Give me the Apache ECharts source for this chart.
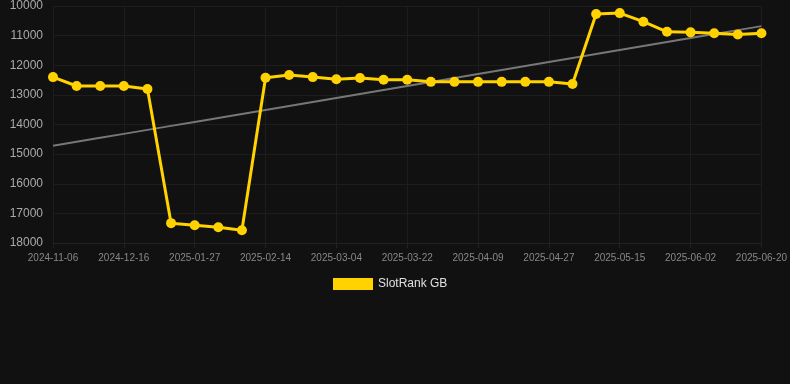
<!DOCTYPE html>
<html><head><meta charset="utf-8">
<script src="https://cdn.jsdelivr.net/npm/echarts@6/dist/echarts.min.js"></script>
<style>html,body{margin:0;padding:0;background:#111111;}#c{width:790px;height:384px;}</style>
</head><body><div id="c"></div>
<script>
const categories = ["2024-11-06","2024-11-19","2024-12-02","2024-12-16","2024-12-30","2025-01-13","2025-01-27","2025-02-02","2025-02-08","2025-02-14","2025-02-20","2025-02-26","2025-03-04","2025-03-10","2025-03-16","2025-03-22","2025-03-28","2025-04-03","2025-04-09","2025-04-15","2025-04-21","2025-04-27","2025-05-03","2025-05-09","2025-05-15","2025-05-21","2025-05-27","2025-06-02","2025-06-08","2025-06-14","2025-06-20"];
const rankValues = [12400,12700,12700,12700,12800,17330,17400,17470,17570,12420,12330,12400,12470,12430,12490,12490,12560,12560,12560,12560,12560,12560,12630,10270,10240,10530,10870,10890,10920,10960,10920];
const yTicks = [10000,11000,12000,13000,14000,15000,16000,17000,18000];

// least-squares trend line over the series
const n = rankValues.length;
let sx=0, sy=0, sxx=0, sxy=0;
rankValues.forEach((v,i)=>{sx+=i;sy+=v;sxx+=i*i;sxy+=i*v;});
const slope = (n*sxy - sx*sy)/(n*sxx - sx*sx);
const icpt = (sy - slope*sx)/n;
const trend = rankValues.map((v,i)=>+(icpt + slope*i).toFixed(1));

const chart = echarts.init(document.getElementById('c'), null, {renderer:'canvas'});
chart.setOption({
  backgroundColor:'#111111',
  animation:false,
  grid:{left:53,right:27,top:6,bottom:141,containLabel:false},
  legend:{
    data:[{name:'SlotRank GB',icon:'rect'}],
    top:273,left:328,
    itemWidth:40,itemHeight:12,
    textStyle:{color:'#e0e0e0',fontSize:12,fontFamily:'Arial, Liberation Sans, sans-serif'}
  },
  xAxis:{
    type:'category',data:categories,boundaryGap:false,
    axisLine:{show:true,lineStyle:{color:'#222'}},
    axisTick:{show:true,interval:2,lineStyle:{color:'#222'}},
    axisLabel:{interval:2,color:'#888',fontSize:10,margin:10,fontFamily:'Arial, Liberation Sans, sans-serif'},
    splitLine:{show:true,interval:2,lineStyle:{color:'#1d1d1d',width:1}}
  },
  yAxis:{
    type:'value',inverse:true,min:yTicks[0],max:yTicks[yTicks.length-1],interval:1000,
    axisLine:{show:false},axisTick:{show:false},
    axisLabel:{color:'#aaa',fontSize:12,margin:10,fontFamily:'Arial, Liberation Sans, sans-serif',formatter:v=>String(v)},
    splitLine:{show:true,lineStyle:{color:'#1d1d1d',width:1}}
  },
  series:[
    {name:'SlotRank GB',type:'line',data:rankValues,
     itemStyle:{color:'#ffd200'},lineStyle:{color:'#ffd200',width:3},
     symbol:'circle',symbolSize:10,z:3},
    {name:'trend',type:'line',data:trend,symbol:'none',
     lineStyle:{color:'#777',width:2},itemStyle:{color:'#777'},z:2,silent:true}
  ]
});
</script></body></html>
